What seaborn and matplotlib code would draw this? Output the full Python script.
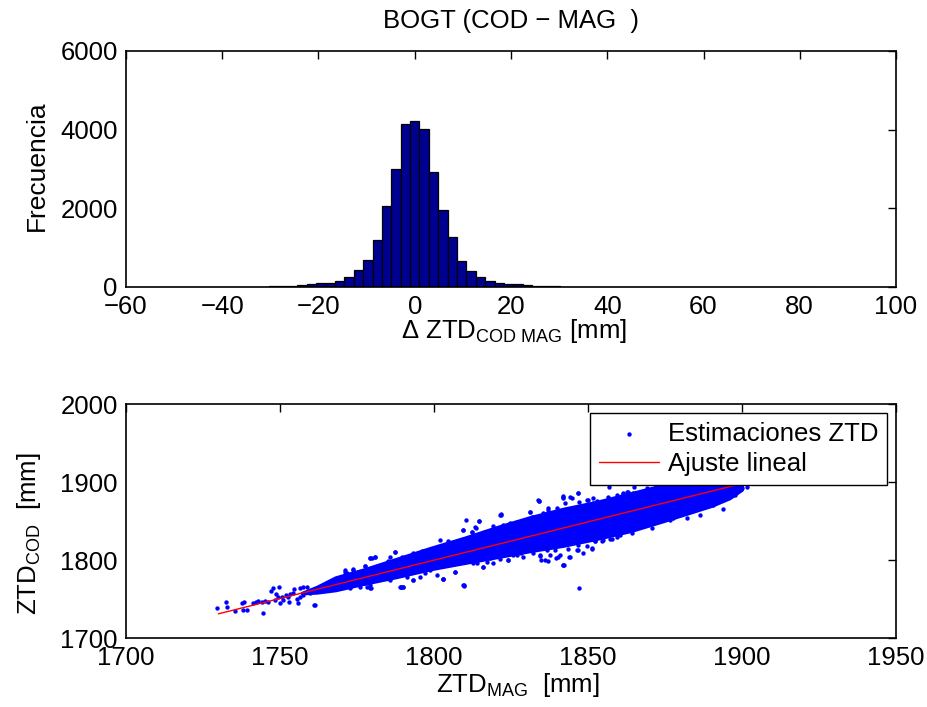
import numpy as np
import pandas as pd
import matplotlib
matplotlib.use("Agg")
import matplotlib.pyplot as plt
import seaborn as sns

# ---------------- data ----------------
bin_width = 1.95
bin_centers = [-52.65, -50.70, -48.75, -46.80, -44.85, -42.90, -40.95, -39.00, -37.05, -35.10,
               -33.15, -31.20, -29.25, -27.30, -25.35, -23.40, -21.45, -19.50, -17.55, -15.60,
               -13.65, -11.70, -9.75, -7.80, -5.85, -3.90, -1.95, 0.00, 1.95, 3.90,
               5.85, 7.80, 9.75, 11.70, 13.65, 15.60, 17.55, 19.50, 21.45, 23.40,
               25.35, 27.30, 29.25, 31.20, 33.15, 35.10, 37.05, 39.00, 40.95, 42.90,
               44.85, 46.80, 48.75, 52.65, 58.50, 81.90]
bin_counts = [1, 1, 2, 1, 2, 3, 3, 4, 5, 6,
              8, 10, 14, 20, 30, 45, 68, 90, 110, 150,
              254, 428, 676, 1186, 2067, 3008, 4136, 4212, 4008, 2923,
              1957, 1279, 669, 402, 254, 160, 110, 85, 68, 45,
              30, 20, 14, 10, 8, 6, 5, 4, 3, 2,
              2, 1, 1, 1, 1, 1]

scatter_x = [1729.7, 1732.5, 1732.7, 1735.5, 1737.6, 1738.4, 1738.1, 1739.2, 1741.3, 1742.2,
             1743.0, 1744.0, 1745.1, 1746.2, 1744.6, 1747.0, 1747.6, 1749.8, 1750.0, 1748.7,
             1749.5, 1750.5, 1751.9, 1753.2, 1754.3, 1753.0, 1754.5, 1755.9, 1756.5, 1757.6,
             1758.7, 1761.4, 1759.7, 1760.8, 1762.4, 1763.5, 1764.6, 1765.7, 1766.8, 1768.4,
             1769.5, 1770.6, 1771.6, 1772.2, 1756.5, 1757.6, 1755.4, 1751.1, 1748.4, 1752.7,
             1771.1, 1773.8, 1777.6, 1779.2, 1780.8, 1779.4, 1779.2, 1778.1, 1782.5, 1784.6,
             1787.3, 1789.0, 1789.8, 1793.3, 1793.1, 1796.0, 1797.8, 1803.0, 1806.8, 1809.5,
             1812.2, 1813.3, 1814.7, 1816.5, 1809.7, 1814.1, 1816.0, 1817.1, 1776.0, 1772.7,
             1785.7, 1791.1, 1797.1, 1800.9,
             1821.6, 1831.2, 1834.2, 1831.7, 1837.1, 1842.0, 1844.7, 1846.9, 1849.8, 1851.5,
             1856.6, 1859.3, 1861.5, 1815.5, 1819.3, 1824.1, 1829.0, 1834.4, 1837.1, 1839.6,
             1842.2, 1844.2, 1846.9, 1849.6, 1852.3, 1855.0, 1857.7, 1860.4, 1851.2, 1848.5,
             1817.1, 1825.8, 1832.3, 1840.9, 1843.6,
             1862.6, 1864.7, 1870.1, 1874.5, 1862.0, 1864.2, 1865.3, 1870.7, 1871.2, 1876.6,
             1877.7, 1882.0, 1886.4, 1890.7, 1892.9, 1893.9, 1897.7, 1899.9, 1901.5, 1866.9,
             1873.4, 1879.9, 1884.2, 1888.0, 1891.8,
             1847.0, 1809.6, 1789.2, 1802.8, 1841.9, 1835.9, 1761.2, 1833.9, 1841.9, 1821.4,
             1810.4, 1779.9, 1785.8, 1864.8, 1869.0,
             # upper edge of the cloud
             1771.1, 1773.8, 1777.6, 1779.2, 1780.8, 1785.2, 1787.3, 1789.5, 1792.2, 1794.9,
             1797.6, 1798.7, 1801.9, 1804.6, 1806.3, 1809.5, 1810.6, 1812.2, 1813.5, 1814.7,
             1816.5, 1819.2, 1821.6, 1822.5, 1824.7, 1826.8, 1828.4, 1831.2, 1832.4, 1834.1,
             1835.5, 1836.9, 1839.8, 1842.0, 1842.5, 1844.1, 1846.8, 1847.2, 1850.1, 1851.7,
             1852.8, 1856.9, 1859.3, 1861.4, 1863.1,
             # lower edge of the cloud
             1768.4, 1770.6, 1774.9, 1777.6, 1779.2, 1789.2, 1789.8, 1793.3, 1795.4, 1798.7,
             1803.0, 1806.8, 1809.5, 1812.8, 1816.0, 1818.2, 1821.4, 1824.1, 1826.8, 1828.4,
             1831.2, 1834.4, 1834.6, 1836.6, 1837.6, 1839.3, 1840.3, 1842.0, 1843.9, 1846.3,
             1846.8, 1851.4, 1852.3, 1854.4, 1857.1, 1857.7, 1859.3, 1860.4]
scatter_y = [1738.4, 1745.7, 1740.1, 1735.0, 1745.2, 1746.1, 1735.4, 1735.4, 1744.4, 1746.1,
             1747.4, 1746.1, 1747.4, 1746.5, 1732.4, 1760.2, 1763.6, 1765.8, 1744.4, 1756.4,
             1752.1, 1753.0, 1755.1, 1756.4, 1757.2, 1746.5, 1762.3, 1744.4, 1764.5, 1764.9,
             1765.8, 1741.8, 1757.2, 1761.5, 1763.6, 1765.8, 1761.5, 1769.2, 1770.9, 1767.9,
             1772.2, 1770.0, 1782.9, 1776.4, 1753.0, 1755.1, 1749.5, 1748.7, 1748.7, 1752.1,
             1785.0, 1787.1, 1792.3, 1802.1, 1804.2, 1763.6, 1767.9, 1765.8, 1776.4, 1779.4,
             1810.6, 1764.9, 1765.8, 1774.3, 1809.3, 1811.5, 1811.5, 1775.2, 1785.0, 1838.4,
             1836.3, 1841.8, 1850.4, 1836.3, 1767.0, 1795.7, 1791.4, 1797.8, 1765.8, 1763.6,
             1774.3, 1777.7, 1782.9, 1780.7,
             1857.7, 1861.9, 1875.6, 1855.5, 1866.2, 1879.9, 1879.0, 1885.4, 1876.9, 1879.9,
             1881.2, 1879.9, 1884.2, 1802.1, 1795.7, 1800.0, 1804.2, 1805.5, 1798.7, 1802.1,
             1793.6, 1804.2, 1812.8, 1818.3, 1824.3, 1825.6, 1826.9, 1832.0, 1814.9, 1808.5,
             1836.3, 1806.4, 1808.5, 1806.4, 1814.1,
             1887.6, 1885.5, 1889.8, 1889.8, 1838.5, 1834.2, 1844.9, 1840.6, 1849.2, 1851.3,
             1853.4, 1853.4, 1857.7, 1870.5, 1876.9, 1865.4, 1883.4, 1891.9, 1894.0, 1851.3,
             1857.7, 1864.1, 1868.4, 1874.8, 1881.2,
             1763.7, 1768.0, 1765.8, 1775.2, 1793.6, 1800.0, 1742.3, 1877.0, 1881.2, 1857.7,
             1851.3, 1802.2, 1804.2, 1894.0, 1892.0,
             # upper edge of the cloud
             1787.2, 1788.0, 1792.3, 1802.1, 1804.3, 1799.1, 1810.7, 1803.4, 1805.1, 1808.5,
             1812.0, 1812.8, 1825.6, 1824.4, 1821.4, 1838.5, 1827.8, 1836.3, 1840.6, 1850.4,
             1836.3, 1843.6, 1858.6, 1844.9, 1847.0, 1849.2, 1850.4, 1862.0, 1855.6, 1876.1,
             1859.8, 1864.1, 1866.2, 1882.1, 1872.7, 1880.4, 1885.5, 1874.8, 1876.9, 1872.7,
             1876.1, 1893.2, 1883.3, 1885.5, 1887.6,
             # lower edge of the cloud
             1763.7, 1765.8, 1772.2, 1770.1, 1763.7, 1765.0, 1765.8, 1774.4, 1778.6, 1787.2,
             1775.2, 1785.0, 1768.0, 1795.7, 1791.4, 1802.1, 1800.9, 1800.0, 1806.4, 1808.6,
             1812.8, 1806.4, 1800.0, 1812.8, 1806.4, 1812.8, 1803.4, 1793.6, 1803.4, 1812.8,
             1819.2, 1814.1, 1824.4, 1824.8, 1826.5, 1834.2, 1829.9, 1838.5]

# dense core of the point cloud (envelope)
band_x = [1757, 1762, 1768, 1777, 1788, 1799, 1810, 1820, 1831, 1842, 1853, 1864, 1874, 1882,
          1890, 1896, 1900]
band_lo = [1757, 1758, 1761, 1769, 1778, 1788, 1796, 1803, 1811, 1818, 1827, 1837, 1849, 1859,
           1869, 1879, 1890]
band_hi = [1758, 1766, 1778, 1788, 1802, 1816, 1829, 1842, 1855, 1866, 1875, 1886, 1896, 1903,
           1906, 1906, 1900]

fit_x = [1730, 1900]
fit_y = [1731, 1898]

# ---------------- style ----------------
sns.set_style("white")
plt.rcParams["font.family"] = ["Liberation Sans", "DejaVu Sans"]
plt.rcParams["mathtext.fontset"] = "custom"
plt.rcParams["mathtext.rm"] = "Liberation Sans"
plt.rcParams["mathtext.it"] = "Liberation Sans:italic"
plt.rcParams["mathtext.bf"] = "Liberation Sans:bold"
for key in ("text.color", "axes.labelcolor", "xtick.color", "ytick.color", "axes.edgecolor"):
    plt.rcParams[key] = "black"

FS = 18.5
W, H = 928, 707
fig = plt.figure(figsize=(W / 100, H / 100), dpi=100)
fig.patch.set_facecolor("white")

ax1 = fig.add_axes([126 / W, 1 - 287 / H, 770 / W, 236 / H])
ax2 = fig.add_axes([126 / W, 1 - 638 / H, 770 / W, 234 / H])

# ---------------- histogram ----------------
hist_df = pd.DataFrame({"d": bin_centers, "n": bin_counts})
lo_edge = min(bin_centers) - bin_width / 2
n_bins = int(round((max(bin_centers) - min(bin_centers)) / bin_width)) + 1
hi_edge = lo_edge + bin_width * n_bins
sns.histplot(data=hist_df, x="d", weights="n", binwidth=bin_width,
             binrange=(lo_edge, hi_edge), ax=ax1,
             color="#000090", edgecolor="black", linewidth=0.9, alpha=1.0)
ax1.set_xlim(-60, 100)
ax1.set_ylim(0, 6000)
ax1.set_xticks(np.arange(-60, 101, 20))
ax1.set_yticks(np.arange(0, 6001, 2000))
ax1.set_xlabel("")
ax1.set_ylabel("")

# ---------------- scatter ----------------
ax2.fill_between(band_x, band_lo, band_hi, color="#0000FF", linewidth=2.0,
                 edgecolor="#0000FF", zorder=1)
sc_df = pd.DataFrame({"x": scatter_x, "y": scatter_y})
sns.scatterplot(data=sc_df, x="x", y="y", ax=ax2, color="#0000FF", s=10,
                linewidth=0, label="Estimaciones ZTD", zorder=2)
fit_df = pd.DataFrame({"x": fit_x, "y": fit_y})
sns.lineplot(data=fit_df, x="x", y="y", ax=ax2, color="red", linewidth=1.0,
             label="Ajuste lineal", zorder=3)
ax2.set_xlim(1700, 1950)
ax2.set_ylim(1700, 2000)
ax2.set_xticks(np.arange(1700, 1951, 50))
ax2.set_yticks(np.arange(1700, 2001, 100))
ax2.set_xlabel("")
ax2.set_ylabel("")

leg = ax2.legend(loc="upper right", bbox_to_anchor=((887 - 126) / 770, (638 - 413) / 234),
                 borderaxespad=0, fontsize=FS, frameon=True, fancybox=False,
                 edgecolor="black", framealpha=1, handlelength=2.3, handletextpad=0.35,
                 labelspacing=0.25, borderpad=0.35, scatterpoints=1, markerscale=1.0)
leg.get_frame().set_linewidth(1.0)

for ax in (ax1, ax2):
    ax.tick_params(direction="in", length=6, width=1, top=True, right=True,
                   labelsize=FS, pad=6, colors="black")
    for sp in ax.spines.values():
        sp.set_visible(True)
        sp.set_color("black")
        sp.set_linewidth(1.2)
    ax.set_facecolor("white")

# ---------------- texts ----------------
fig.text(511 / W, 1 - 21 / H, "BOGT (COD \u2212 MAG  )", ha="center", va="center", fontsize=FS)
fig.text(37 / W, 1 - 166 / H, "Frecuencia", ha="center", va="center", rotation=90,
         fontsize=FS + 0.5)
fig.text(514 / W, 1 - 338 / H, r"Δ ZTD$_{\mathregular{COD\ MAG}}$ [mm]", ha="center",
         va="baseline", fontsize=FS)
fig.text(518 / W, 1 - 692 / H, r"ZTD$_{\mathregular{MAG}}$  [mm]", ha="center",
         va="baseline", fontsize=FS)
fig.text(29 / W, 1 - 534 / H, r"ZTD$_{\mathregular{COD}}$  [mm]", ha="center",
         va="center", rotation=90, fontsize=FS)

fig.savefig("out.png", dpi=100, facecolor="white")
